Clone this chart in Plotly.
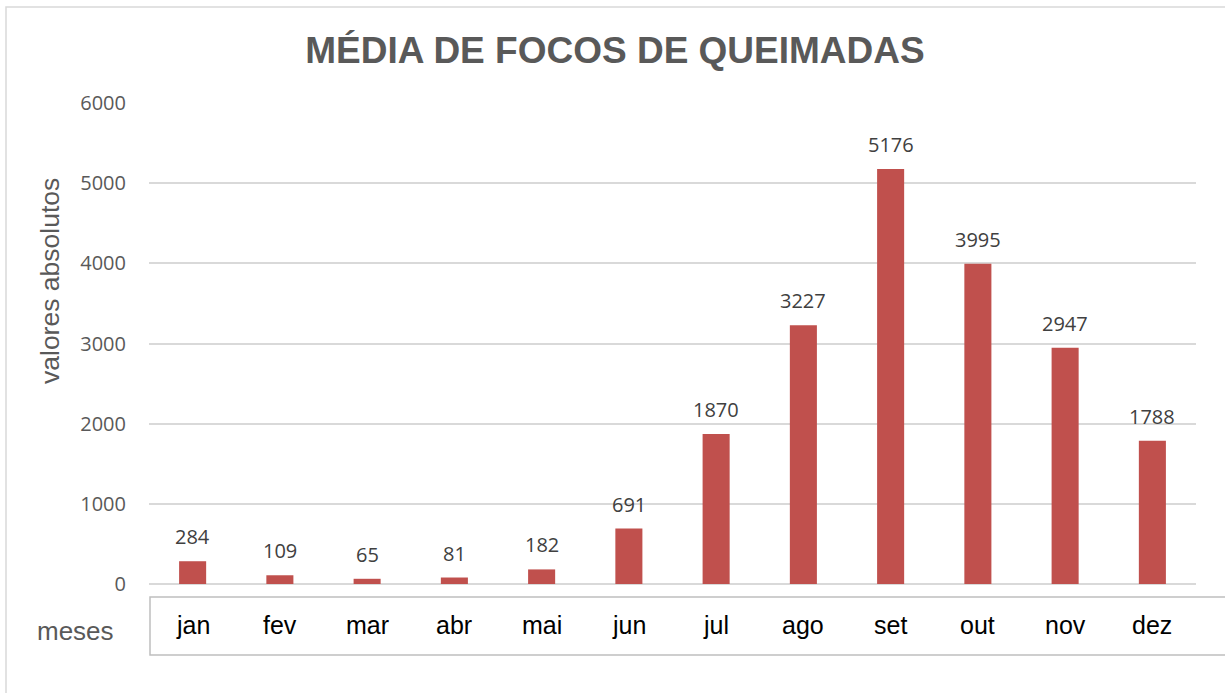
import plotly.graph_objects as go

meses = ["jan", "fev", "mar", "abr", "mai", "jun", "jul", "ago", "set", "out", "nov", "dez"]
focos = [284, 109, 65, 81, 182, 691, 1870, 3227, 5176, 3995, 2947, 1788]
y_ticks = [0, 1000, 2000, 3000, 4000, 5000, 6000]

W, H = 1225, 693
L, R, T, B = 149, 29, 103, 109
pw, ph = W - L - R, H - T - B

def px_x(x):
    return (x - L) / pw

def px_y(y):
    return (H - B - y) / ph

fig = go.Figure()
fig.add_trace(go.Bar(x=meses, y=focos, marker=dict(color="#c0504d", line=dict(width=0)),
                     showlegend=False, hoverinfo="x+y"))

# data labels
for m, v in zip(meses, focos):
    fig.add_annotation(x=m, y=v, text=str(v), showarrow=False, xanchor="center", yanchor="bottom", yshift=9,
                       font=dict(family="Open Sans, Calibri, sans-serif", size=20, color="#404040"))

# category labels inside box
for m in meses:
    fig.add_annotation(x=m, y=px_y(625), yref="paper", text=m, showarrow=False,
                       xanchor="center", yanchor="middle",
                       font=dict(family="Liberation Sans, Arial, sans-serif", size=25, color="#000000"))

# category box
fig.add_shape(type="rect", xref="paper", yref="paper", x0=px_x(150), x1=px_x(1240),
              y0=px_y(597), y1=px_y(655), line=dict(color="#bfbfbf", width=1.5))
# outer border
fig.add_shape(type="rect", xref="paper", yref="paper", x0=px_x(6), x1=px_x(1240),
              y0=px_y(710), y1=px_y(7), line=dict(color="#d9d9d9", width=1.5))

fig.add_annotation(x=px_x(75), y=px_y(631), xref="paper", yref="paper", text="meses", showarrow=False,
                   xanchor="center", yanchor="middle",
                   font=dict(family="Liberation Sans, Arial, sans-serif", size=26, color="#595959"))
fig.add_annotation(x=px_x(50), y=px_y(281), xref="paper", yref="paper", text="valores absolutos",
                   showarrow=False, textangle=-90, xanchor="center", yanchor="middle",
                   font=dict(family="Liberation Sans, Arial, sans-serif", size=26.5, color="#595959"))

fig.update_layout(
    width=W, height=H,
    margin=dict(l=L, r=R, t=T, b=B),
    paper_bgcolor="white", plot_bgcolor="white",
    bargap=0.69,
    title=dict(text="<b>MÉDIA DE FOCOS DE QUEIMADAS</b>", x=615 / W, xref="container", xanchor="center",
               y=1 - 50 / H, yref="container", yanchor="middle",
               font=dict(family="Liberation Sans, Arial, sans-serif", size=37, color="#595959")),
    xaxis=dict(showticklabels=False, showline=False, ticks="", showgrid=False, zeroline=False),
    yaxis=dict(range=[0, 6000], tickvals=y_ticks, showgrid=True, gridcolor="#d9d9d9", gridwidth=1.5,
               zeroline=True, zerolinecolor="#d9d9d9", zerolinewidth=1.5, showline=False, ticks="",
               ticklabelstandoff=22,
               tickfont=dict(family="Open Sans, Calibri, sans-serif", size=20, color="#595959")),
)

fig.write_html("out.html", config={"displayModeBar": False},
               post_script="document.body.style.margin='0';")
